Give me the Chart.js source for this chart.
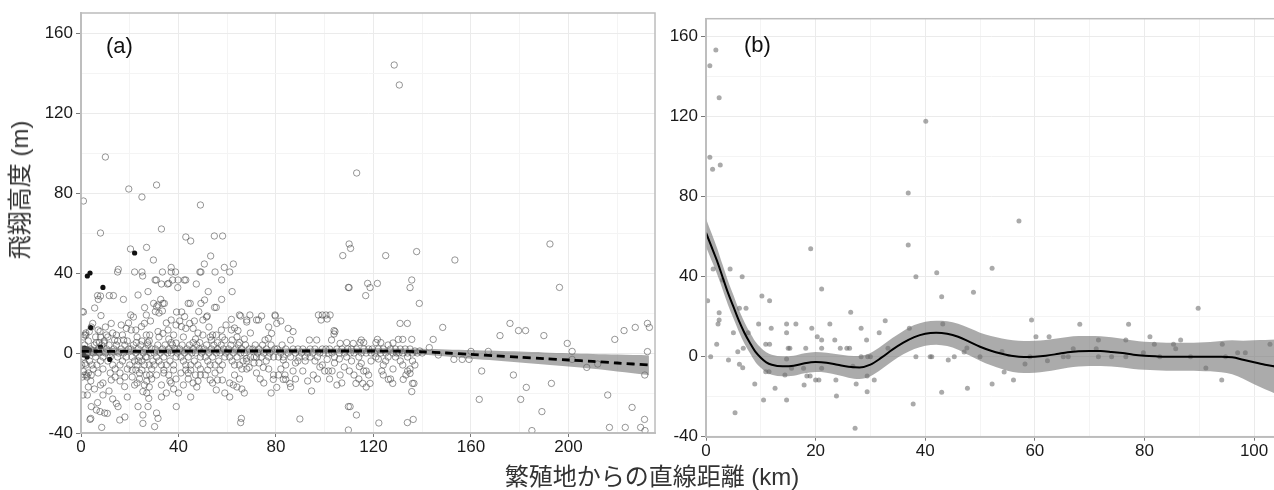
<!DOCTYPE html>
<html>
<head>
<meta charset="utf-8">
<script src="https://cdn.jsdelivr.net/npm/chart.js@4.4.1/dist/chart.umd.min.js"></script>
<style>
html, body { margin: 0; padding: 0; background: #fff; overflow: hidden; width: 1274px; height: 490px; }
#wrapA { position: absolute; left: 0; top: 0; width: 660px; height: 462px; }
#wrapB { position: absolute; left: 660px; top: 0; width: 640px; height: 466px; }
.lbl { position: absolute; font-family: "Liberation Sans", Arial, sans-serif; font-size: 22px; line-height: 22px; color: #111; }
.ttl { position: absolute; font-family: "Liberation Sans", "Noto Sans CJK JP", sans-serif; font-size: 24px; line-height: 24px; color: #333; white-space: nowrap; transform: translate(-50%, -50%); }
</style>
</head>
<body>
<div id="wrapA"><canvas id="chartA" width="660" height="462"></canvas></div>
<div id="wrapB"><canvas id="chartB" width="640" height="466"></canvas></div>
<div class="lbl" style="left:106px; top:35px;">(a)</div>
<div class="lbl" style="left:744px; top:34px;">(b)</div>
<div class="ttl" style="left:20px; top:190px; transform: translate(-50%, -50%) rotate(-90deg);">飛翔高度 (m)</div>
<div class="ttl" style="left:652px; top:477px;">繁殖地からの直線距離 (km)</div>
<script>
// (a) 全個体: 距離 (km), 高度 (m)
const openA = [
  [1,76],[8,60],[10,98],[0.5,20.7],[1,20.5],[5.6,22.5],[6.8,28.7],[7.1,26.8],[8,28.5],[8.2,18.7],[1.5,9],[4.2,13],[4.8,14.8],[3.4,10.7],[2,9],[7.8,10.7],[7,11.5],[6.3,5.2],[7.5,5.2],[9.5,5],
  [1.5,-11],[4.2,-11],[2.3,-11],[9,-15],[0.8,-21],[2.6,-21],[9,-21],[4.2,-26.8],[6.3,-28.5],[6.8,-24.8],[7.8,-29.3],[3.7,-33.2],[8.5,-37.2],[4,-32.7],[1.6,-5.2],[1,-9.3],
  [0.5,2],[1,-2],[1.5,4],[2,-6],[2.5,0],[3,6],[3.5,-4],[4,2],[4.5,-6],[5,0],[5.5,4],[6,-2],[6.5,-6],[7,2],[7.5,0],[8,-4],[8.5,4],[9,-2],[9.5,6],[10,0],
  [1,8],[3,-10],[5,-8],[7,-10],[9,-8],[0.3,-6],[2,10],[6,8],[8,8],[4,-14],[2.5,-12],[0.5,-12],[5.5,-18],[8,-16],[3,-17],[9.7,-30],[10,13],
  [11.6,28.7],[13.3,28.7],[15.3,41.8],[15,40.5],[17.4,26.8],[12.4,14.8],[10.4,9],[14.5,9],[17,9],[18.6,12.3],[13.8,6.5],[17.5,6.5],[12.4,-13.5],[17.9,-16.8],[14.5,-25.2],[15.2,-26.8],[10.8,-30.2],[15.9,-33.5],[18,-32],[20.4,19],[19.6,82],[20.3,52],
  [10.5,2],[11,-4],[11.5,4],[12,-2],[12.5,0],[13,-6],[13.5,2],[14,-8],[14.5,4],[15,-2],[15.5,0],[16,-6],[16.5,2],[17,-4],[17.5,0],[18,4],[18.5,-2],[19,-8],[19.5,2],
  [12,-10],[14,-12],[16,-10],[18,-12],[11,8],[15,6],[19,6],[13,10],[16,-14],[20,-6],[11.5,-19],[19,-22],[13,-23],[16.5,14],[19.5,15],
  [25,78],[22,40.5],[25,40.5],[25.3,38.5],[26.9,52.8],[29.7,46.5],[23.4,29],[27.5,30.7],[29.8,24.8],[26.1,22.7],[26.8,19],[24.8,13.2],[26,14.8],[20.6,11.5],[22.5,11.5],[26.8,9],[28.2,9],[22.7,5.2],[25,6],[27.3,5.2],
  [21,-8.5],[22.5,-8.5],[25,-8.5],[26.8,-11],[28.2,-11],[25.4,-19.3],[28,-17],[23.4,-26.8],[27.5,-26.8],[27.8,-22.7],[25.4,-31],[25.4,-35.2],[27,-20],[23,-15],[29,-13],
  [20.5,2],[21,-2],[21.5,4],[22,-4],[22.5,0],[23,-6],[23.5,2],[24,-2],[24.5,4],[25,-4],[25.5,0],[26,-6],[26.5,2],[27,-2],[27.5,4],[28,-6],[28.5,0],[29,2],[29.5,-4],[30,0],
  [21,-12],[24,-10],[27,-14],[29,-8],[23,8],[28,6],[22,-16],[26,-16],[24,-13],[21.5,18],[28.5,16],[23.5,-4],[26.5,-2],
  [31,84],[33,62],[30.9,36.5],[33,34.5],[35.5,34.5],[36,34.8],[33.4,40.5],[37,40.5],[38.8,40.5],[37,42.8],[30.4,36.5],[37.6,36.5],[39.8,36.5],[39.7,32.7],[31.6,24],[33.6,24.8],[34.2,24.8],[31,23.2],[33.4,21],[32.7,26.8],
  [30.5,20.7],[32,20],[39.2,20.5],[37,16.5],[31.6,10.7],[33.6,9.8],[35.7,11.5],[39,14],[37,5.2],[39,5],[31.6,-32.7],[30.2,-36.8],[39.1,-26.8],[31,-30],[35,-20],[33,-16],[37,-15],[31,-11],[34,-8.5],[36,-11],[39,-13],[38,-18],
  [30.5,2],[31,-2],[31.5,4],[32,-4],[32.5,0],[33,-6],[33.5,2],[34,-2],[34.5,4],[35,-6],[35.5,0],[36,2],[36.5,-4],[37,0],[37.5,4],[38,-6],[38.5,2],[39,-2],[39.5,0],
  [32,8],[36,7],[38,9],[34,-10],[30,-6],[35,15],[33,-22],[38,-8.5],[36.5,-14],
  [43,58],[45,56],[49,74],[41.3,20.5],[42.5,18.2],[44,24.8],[44.8,24.8],[47.3,34.5],[42.4,36.5],[43,36.5],[48.8,40.5],[49.2,40.5],[48.3,20.7],[41.2,13.2],[43,12.3],[44.6,14.8],[46,12.3],[49.2,24.8],[46,5.2],[48.7,5.2],[48,10],
  [41,-10],[43,-8.5],[45,-8.5],[47,-11],[49,-11],[42,-16],[46,-15],[44,-13],[48,-14],[40,-20],[45,-22],
  [40.5,2],[41,-2],[41.5,4],[42,-4],[42.5,0],[43,-6],[43.5,2],[44,-2],[44.5,4],[45,-6],[45.5,0],[46,2],[46.5,-4],[47,0],[47.5,4],[48,-6],[48.5,2],[49,-2],[49.5,0],
  [42,8],[47,7],[44,-10],[49,-8],[46.5,16],[40.5,16],[47.5,-17],
  [50.6,44.5],[53.2,48.5],[54.7,58.5],[58.1,58.5],[55,40.5],[58.8,42.8],[52.2,30.7],[50.7,26.5],[51.8,18.5],[54.8,22.8],[55.5,22.8],[57.7,36.5],[57.7,26.8],[50,16.5],[51.5,18],[50,9],[54,9],[55.5,9],[57.6,11.5],[53.5,6.5],[56,5.2],[59,6.5],
  [55.5,-18.5],[54,-15],[51,-11],[53,-13.5],[56,-13.5],[58,-13.5],[52,-8.5],[57,-8.5],[59,-20],
  [50.5,2],[51,-2],[51.5,4],[52,-4],[52.5,0],[53,-6],[53.5,2],[54,-2],[54.5,4],[55,-6],[55.5,0],[56,2],[56.5,-4],[57,0],[57.5,4],[58,-6],[58.5,2],[59,-2],[59.5,0],
  [53,8],[58,8],[55,-10],[52.5,13],[59.5,14],
  [61,40.5],[62.5,44.5],[62,30.7],[61.7,16.8],[65,19],[65.5,18.5],[68,15.5],[69.3,19],[68,16.5],[61.7,11.5],[64.4,11.2],[63,12.5],[62,6.5],[65,5.2],[65.8,-32.7],[65.5,-34.8],[67.9,-2.7],
  [64,-17],[61,-15],[63,-11],[66,-8],[68,-8],[65,-13],[69,-7.2],[61,-22],[67,-20],
  [60.5,2],[61,-2],[61.5,4],[62,-4],[62.5,0],[63,-6],[63.5,2],[64,-2],[64.5,4],[65,-6],[65.5,0],[66,2],[66.5,-4],[67,0],[67.5,4],[68,-4],[69,2],[69.5,-2],
  [64,8],[67,7],[62.5,-16],[66,-18],[69.5,10],
  [72,16.5],[74.1,18.5],[72.8,16.5],[79.7,18.5],[79.6,19],[80.3,14.8],[77,13],[78.2,9.8],[76.9,7.3],[75.5,6.5],[74.8,-7.2],[71,-5],[73,-5],[76,-4],[78.9,-13.2],[80.3,-17.2],[72,-10],[77,-8],[79,-11],[75,-15],[78,-20],
  [70.5,2],[71,-2],[71.5,4],[72,-2],[72.5,0],[73,2],[74,-2],[74.5,4],[75,0],[76,2],[77,-2],[77.5,0],[78,4],[79,-2],[79.5,2],[73.5,-13],
  [83,-3.5],[85,12.3],[87,10.7],[86,6.5],[85.7,-15.2],[83,-13.2],[84,-13.2],[86,-17],[88,-13],[82,-8],[84,-6],[88,-5],[89.8,-33],[81,-11],[87,-9],[89,-4],
  [80.5,2],[81,-2],[82,0],[82.5,4],[83,-2],[84,2],[85,0],[86,-2],[87,2],[88,0],[89,2],[89.5,-2],[83.7,-11],[82,16],
  [93.7,6.5],[97.4,19],[99,19],[94.6,-19],[92,-4],[94,-2],[96,-4],[98,-7],[91,-9],[95.3,-11],[97,-13],[93,-14],[99,-6],
  [90.5,0],[91,2],[92,-2],[93,0],[94,2],[95,0],[96,2],[97,-2],[98,0],[99,2],[99.5,0],[96.7,6.5],[98.5,16.5],
  [102.2,19],[100.5,19],[101,17],[103.8,11.2],[103.8,9.5],[104.2,10.7],[102.8,6.5],[106.3,4.8],[109,5.2],[107.4,48.7],[109.7,32.8],[106.3,-11],[103,-9],[100,-9],[101,-3.2],[109.7,-26.8],[109.7,-38.5],
  [104,-5],[108,-7],[106,-3],[110.1,-9],[102,-13],[105,-16],[107,-15],[110,54.5],[110.6,52.3],
  [100.5,2],[101.5,0],[102,2],[103,0],[104,-2],[105,2],[106,0],[107,2],[108,0],[109,-2],[109.5,2],[101.5,-9],
  [113.1,90],[111.7,4.8],[114.5,5.2],[115,6.5],[116,5.2],[112.8,-15.2],[114.2,-6.8],[115,-5.2],[115.6,-15.2],[118.6,-15.2],[113,-31],[117.6,34.8],[118.6,32.7],[116.8,28.7],[110.4,-26.8],[110,32.7],
  [112,-11],[117,-9],[118,-11],[119,-4],[116,-9],[111,-4],
  [110.5,0],[111,2],[112,0],[113,2],[114,-2],[115,0],[116,2],[117,0],[118,2],[119,0],[119.5,2],[114,-13],[117,-17],
  [121.6,34.8],[125,48.7],[122.2,-35],[121.6,6.8],[121,5.2],[123,5.2],[123.4,-9],[124,-6],[125,-4],[126.1,-13.2],[127.9,-15.2],[127,-13],[128.5,144],[122,-3],[128,-8],[129,-2],[126,4],[128,5],
  [120.5,0],[121,-2],[122,2],[123,0],[124,2],[125,0],[126,-2],[127,2],[128,0],[129,2],[129.5,0],[124,-11],
  [130.6,134],[130.9,14.8],[133.9,14.8],[130.2,6.8],[132,6.8],[135.7,6.8],[132.2,-13.2],[133.3,-11],[134,-9],[136.6,-15.2],[136,-15.2],[135.7,-19.3],[133.9,-34.8],[136.3,-33.2],[135.7,36.5],[135,32.7],[137.7,50.7],[138.8,24.8],
  [131,-4],[132,-6],[134,-2],[135,-8],[136,-4],[137,-6],[135,-10.2],
  [130.5,0],[131,2],[132,0],[133,2],[134,0],[135,2],[136,0],[137,1],[138,0],[139,1],[140,0],
  [142.9,2.7],[144.5,6.8],[148.4,12.8],[146.6,-1],[153.4,46.5],[153,-3.2],[156.4,-3.2],[159.2,-3.2],[160,0.8],[167.1,0.8],[164.4,-9],[163.4,-23.2],[171.9,8.7],[176,14.8],[177.4,-11],
  [179.5,11.2],[182.4,11.2],[182.7,-17.2],[180.4,-23.2],[185,-38.8],[189.1,-29.3],[189.9,8.7],[192.4,54.5],[193,-15.2],[196.3,32.8],[199.5,4.8],[201.5,0.8],[201.5,-3.2],[207.5,-7.2],[212,-5.5],
  [216.1,-21],[216.8,-37.2],[219,6.8],[222.8,11.2],[223.3,-37.2],[226.1,-27.2],[227.4,12.8],[229.6,-37.2],[231.2,-33.2],[231.3,-11],[231.4,-38.8],[232.4,14.8],[233.2,12.8],[232.4,0.7]
];
const solidA = [[22,50],[2.6,38.5],[3.7,40],[9,32.8],[4,12.7],[0.5,2],[1.5,2.5],[2.5,2],[3.5,1.5],[1.2,-1],[2.5,-2],[8,3],[11.8,-3.2],[6,1]];

// (a) 回帰曲線と信頼区間
const fitDistA = [0, 20, 40, 60, 80, 100, 120, 130, 140, 150, 160, 170, 180, 190, 200, 210, 220, 233];
const fitA = [0.8, 0.8, 0.9, 1, 1, 1, 1, 0.9, 0.6, 0, -0.7, -1.4, -2.1, -2.8, -3.5, -4.2, -5, -6];
const loA = [-1.8, -0.6, -0.4, -0.3, -0.3, -0.3, -0.4, -0.5, -0.9, -1.8, -2.9, -3.8, -4.8, -5.8, -6.8, -7.9, -9.2, -11];
const hiA = [3.4, 2.2, 2.2, 2.3, 2.3, 2.3, 2.4, 2.3, 2.1, 1.8, 1.5, 1.1, 0.7, 0.3, -0.1, -0.5, -0.8, -1.2];

// (b)
const ptsB = [
  [0.7,145.5],[1.8,153.3],[2.4,129.5],[0.7,99.7],[1.2,93.7],[2.6,95.8],[40.1,117.7],[36.9,81.8],[36.9,55.8],[19.1,54],[57.1,67.8],
  [0.3,28],[0.85,0],[1.3,43.8],[1.95,6.2],[2.4,22],[2.4,18.3],[2.2,16.3],[3,38.3],[4.4,43.8],[4.1,-1.7],[5,12],[5.8,2.5],[5.3,-28],[6.1,24.2],[6.6,40],[6.1,-3.8],[6.7,-5.5],[7.3,24.2],[7.7,12],[6.8,4.2],
  [8.9,-13.7],[9.6,16.3],[10.2,30.3],[10.5,-21.7],[10.9,6.2],[11.6,6.2],[11.6,28],[11.9,14.2],[10.9,-7.5],[11.5,-7.5],[12.6,-15.8],[14.4,-9.2],[14.7,12],[14.7,16.3],[15,4.2],[15.3,4.2],[14.7,-21.7],[14.7,-1.2],[15.6,-5.8],
  [16.4,16.3],[17.8,-5.8],[17.9,-14.2],[18.2,4.2],[18.4,-9.7],[19,-9.7],[19.3,14.2],[20,-11.7],[20.6,-11.7],[20.3,10],[21.1,8.3],[21.1,33.8],[21.1,4.2],[21.1,-5.8],[22.6,16.3],[23.5,8.3],[23.8,-19.7],[23.7,-11.7],
  [24.5,4.2],[25.7,4.2],[26.2,4.2],[26.4,22.2],[26.8,-4.8],[27.2,-35.8],[27.4,-13.7],[28.3,14.2],[28.3,0],[29.3,8.3],[29.5,0],[30,0],[29.4,-9.7],[29.4,-17.5],[30.7,-11.7],[31.6,12],[32.7,18],[33.2,4.2],
  [37.1,14.2],[37.8,-23.7],[38.3,40],[38.3,0],[40.9,0],[41.2,0],[42.1,42],[43,30],[43.2,16.3],[43,-17.8],[44.2,-1.7],[45.3,0],[47.6,4.4],[47.1,2.4],[47.7,-15.8],[48.8,32.2],[50,0],
  [52.2,44.2],[52.2,-13.7],[54.4,-7.7],[54,2.6],[56.1,-11.7],[58.2,-3.7],[59.1,0],[59.4,18.3],[60.2,10],[62.3,-2],[62.6,10],[65.2,0],[66.1,0],[67,4],[68.2,16.2],[71.2,4],[71.6,8.3],[71.6,0],[74,0],
  [76.6,8.3],[76.6,0],[77.1,16.2],[79.8,2],[81,10],[81.8,6.2],[82.8,0],[85.3,6.2],[85.7,4],[86.6,8.3],[88.4,0],[89.8,24.2],[91.2,-5.7],[94.2,6.2],[94.1,-11.7],[94.8,0],[97,2],[98.4,2],[102.9,6.2]
];
const fitDistB = [0,1,2,3,4,5,6,7,8,9,10,11,12,14,16,18,20,22,24,26,28,30,32,34,36,38,40,42,44,46,48,50,52,54,56,58,60,62,64,66,68,70,72,74,76,78,80,82,84,86,88,90,92,94,96,98,100,102,104];
const fitB = [62,55,48,40,32,25,18,12,7,2.5,-0.5,-2.8,-4,-4.8,-4.5,-3.3,-2.7,-3,-4,-5,-5.4,-4,-0.5,3.5,7,9.8,11.5,12,11.5,10,7.5,5,3,1.5,0.3,-0.2,0,0.5,1.3,2.2,2.7,2.8,2.8,2.4,1.8,1,0.5,0.2,0,0,0,0,0,0,-0.3,-1.5,-2.8,-4,-5];
const loB = [55,48.2,41.5,33.8,26,19.2,12.5,6.6,1.8,-2.6,-5.5,-7.8,-9,-9.8,-9.5,-8.3,-7.7,-8,-9.2,-10.5,-11.2,-9.8,-6.3,-2.3,1.2,3.8,5.5,6,5.3,3.5,0.7,-2,-4.3,-6.1,-7.6,-8.2,-8,-7.4,-6.5,-5.5,-4.9,-4.7,-4.6,-4.9,-5.4,-6.1,-6.5,-6.8,-7,-7,-7,-7.1,-7.3,-7.8,-8.8,-11,-13.8,-16.3,-18.6];
const hiB = [69,61.8,54.5,46.2,38,30.8,23.5,17.4,12.2,7.6,4.5,2.2,1,0.2,0.5,1.7,2.3,2,1.2,0.5,0.4,1.8,5.3,9.3,12.8,15.8,17.5,18,17.7,16.5,14.3,12,10.3,9.1,8.2,7.8,8,8.4,9.1,9.9,10.3,10.3,10.2,9.7,9,8.1,7.5,7.2,7,7,7,7.1,7.3,7.8,8.2,8,8.2,8.3,8.6];

// 目盛り
const xTicksA = [0, 20, 40, 60, 80, 100, 120, 140, 160, 180, 200, 220];
const xTicksB = [0, 10, 20, 30, 40, 50, 60, 70, 80, 90, 100];
const yTicks = [-40, -20, 0, 20, 40, 60, 80, 100, 120, 140, 160];

const pairs = list => list.map(p => ({ x: p[0], y: p[1] }));
const zipXY = (xs, ys) => xs.map((x, i) => ({ x: x, y: ys[i] }));

const BAND = 'rgba(110,110,110,0.58)';

function makeAxis(ticks, min, max, labelStep, size, horizontal) {
  return {
    type: 'linear',
    min: min,
    max: max,
    afterBuildTicks: s => { s.ticks = ticks.map(v => ({ value: v })); },
    afterFit: s => {
      if (horizontal) s.height = size; else s.width = size;
      s.paddingTop = 0; s.paddingBottom = 0; s.paddingLeft = 0; s.paddingRight = 0;
    },
    ticks: {
      autoSkip: false,
      maxRotation: 0,
      padding: horizontal ? 0 : 3,
      color: '#1a1a1a',
      font: { family: 'Liberation Sans', size: 17 },
      callback: v => (v % labelStep === 0 ? String(v) : '')
    },
    grid: {
      color: c => (c.tick && c.tick.value % labelStep === 0 ? '#ebebeb' : '#f4f4f4'),
      lineWidth: 1,
      drawTicks: true,
      tickLength: horizontal ? 4 : 5,
      tickColor: c => (c.tick && c.tick.value % labelStep === 0 ? '#777' : 'rgba(0,0,0,0)')
    },
    border: { color: '#c4c4c4', width: 2 }
  };
}

const boxPlugin = {
  id: 'box',
  afterDatasetsDraw(chart) {
    const ctx = chart.ctx, a = chart.chartArea;
    ctx.save();
    ctx.strokeStyle = '#bcbcbc';
    ctx.lineWidth = 1.5;
    ctx.strokeRect(a.left, a.top, a.right - a.left, a.bottom - a.top);
    ctx.restore();
  }
};

const common = {
  responsive: false,
  animation: false,
  devicePixelRatio: 1,
  events: [],
  plugins: { legend: { display: false }, tooltip: { enabled: false } }
};

Chart.defaults.font.family = 'Liberation Sans';

// (a)
new Chart(document.getElementById('chartA').getContext('2d'), {
  type: 'line',
  data: {
    datasets: [
      { data: zipXY(fitDistA, fitA), order: 0, borderColor: '#000', borderWidth: 2.8, borderDash: [8, 5], pointRadius: 0, fill: false, tension: 0.3 },
      { data: zipXY(fitDistA, hiA), order: 1, borderWidth: 0, borderColor: 'rgba(0,0,0,0)', pointRadius: 0, backgroundColor: BAND, fill: '+1', tension: 0.3 },
      { data: zipXY(fitDistA, loA), order: 1, borderWidth: 0, borderColor: 'rgba(0,0,0,0)', pointRadius: 0, fill: false, tension: 0.3 },
      { data: pairs(solidA), order: 2, showLine: false, pointRadius: 2.6, pointBackgroundColor: '#111', pointBorderColor: '#111', pointBorderWidth: 0 },
      { data: pairs(openA), order: 3, showLine: false, pointRadius: 3.2, pointBackgroundColor: 'rgba(0,0,0,0)', pointBorderColor: 'rgba(75,75,75,0.58)', pointBorderWidth: 1 }
    ]
  },
  options: Object.assign({}, common, {
    layout: { padding: { top: 13, right: 5, left: 0, bottom: 0 } },
    scales: {
      x: makeAxis(xTicksA, 0, 235.5, 40, 29, true),
      y: makeAxis(yTicks, -40, 170, 40, 81, false)
    }
  }),
  plugins: [boxPlugin]
});

// (b)
new Chart(document.getElementById('chartB').getContext('2d'), {
  type: 'line',
  data: {
    datasets: [
      { data: zipXY(fitDistB, fitB), order: 0, borderColor: '#000', borderWidth: 2, pointRadius: 0, fill: false, cubicInterpolationMode: 'monotone' },
      { data: zipXY(fitDistB, hiB), order: 1, borderWidth: 0, borderColor: 'rgba(0,0,0,0)', pointRadius: 0, backgroundColor: BAND, fill: '+1', cubicInterpolationMode: 'monotone' },
      { data: zipXY(fitDistB, loB), order: 1, borderWidth: 0, borderColor: 'rgba(0,0,0,0)', pointRadius: 0, fill: false, cubicInterpolationMode: 'monotone' },
      { data: pairs(ptsB), order: 2, showLine: false, pointRadius: 2.5, pointBackgroundColor: 'rgba(100,100,100,0.55)', pointBorderWidth: 0 }
    ]
  },
  options: Object.assign({}, common, {
    layout: { padding: { top: 18.7, right: 24, left: 0, bottom: 0 } },
    scales: {
      x: makeAxis(xTicksB, 0, 104, 20, 29.3, true),
      y: makeAxis(yTicks, -40, 169, 40, 46, false)
    }
  }),
  plugins: [boxPlugin]
});
</script>
</body>
</html>
